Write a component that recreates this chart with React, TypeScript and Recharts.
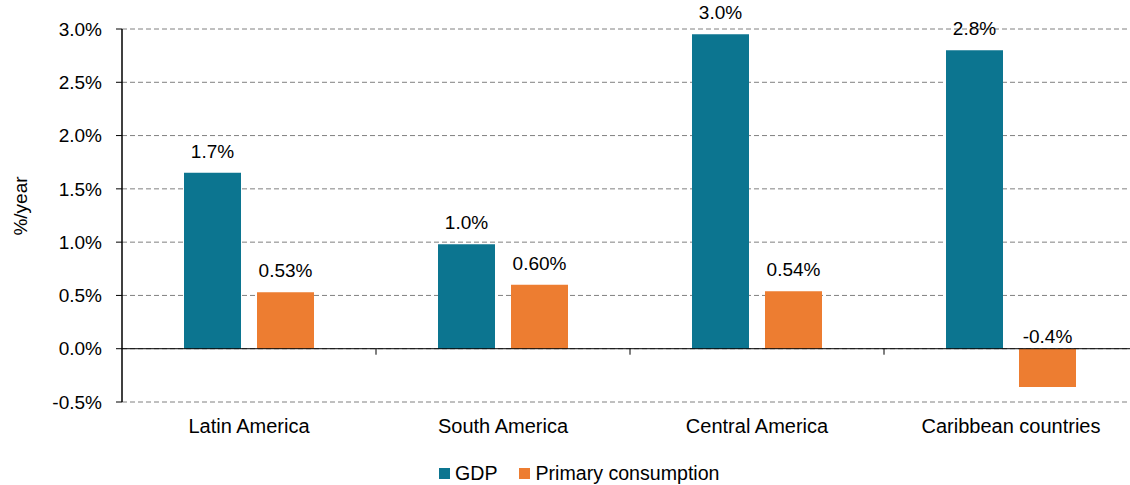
import React from 'react';
import { BarChart, Bar, XAxis, YAxis, CartesianGrid, ReferenceLine, LabelList, Legend } from 'recharts';

const categories = ['Latin America', 'South America', 'Central America', 'Caribbean countries'];
const gdpValues = [1.65, 0.98, 2.95, 2.8];
const primaryValues = [0.53, 0.6, 0.54, -0.36];
const gdpLabels = ['1.7%', '1.0%', '3.0%', '2.8%'];
const primaryLabels = ['0.53%', '0.60%', '0.54%', '-0.4%'];
const yTicks = [-0.5, 0, 0.5, 1, 1.5, 2, 2.5, 3];
const yTickLabels = ['-0.5%', '0.0%', '0.5%', '1.0%', '1.5%', '2.0%', '2.5%', '3.0%'];
const seriesNames = ['GDP', 'Primary consumption'];

const data = categories.map((c, i) => ({ category: c, gdp: gdpValues[i], primary: primaryValues[i] }));

const W = 1140;
const H = 485;
const MARGIN = { top: 29, right: 2, bottom: 0, left: 0 };
const YAXIS_W = 122;
const XAXIS_H = 59;
const LEGEND_H = 24;
const PLOT_TOP = MARGIN.top;
const PLOT_BOTTOM = H - MARGIN.bottom - LEGEND_H - XAXIS_H;
const PLOT_W = W - MARGIN.left - MARGIN.right - YAXIS_W;
const BAND = PLOT_W / categories.length;
const Y_MIN = -0.5;
const Y_MAX = 3;
const ZERO_Y = PLOT_BOTTOM - ((0 - Y_MIN) / (Y_MAX - Y_MIN)) * (PLOT_BOTTOM - PLOT_TOP);

const GDP_COLOR = '#0c7590';
const PRIMARY_COLOR = '#ed7d31';
const FONT = '"Liberation Sans", Arial, sans-serif';
const FS = 19;

const makeLabel = (labels: string[]) => (props: any) => {
  const { x, y, width, height, index, value } = props;
  const yy = Number(y);
  const hh = Number(height);
  const top = Math.min(yy, yy + hh);
  const baseline = Number(value) >= 0 ? top - 15 : top - 6;
  return (
    <text x={Number(x) + Number(width) / 2} y={baseline} textAnchor="middle" fontSize={FS} fill="#000" fontFamily={FONT}>
      {labels[index]}
    </text>
  );
};

const XTick = (props: any) => {
  const { x, y, payload, index } = props;
  return (
    <g>
      {index > 0 && (
        <line x1={x - BAND / 2} x2={x - BAND / 2} y1={ZERO_Y} y2={ZERO_Y + 6} stroke="#000" strokeWidth={1} />
      )}
      <text x={x} y={y + 31} textAnchor="middle" fontSize={20} fill="#000" fontFamily={FONT}>
        {payload.value}
      </text>
    </g>
  );
};

const LegendContent = (props: any) => {
  const items = [
    { name: seriesNames[0], color: GDP_COLOR },
    { name: seriesNames[1], color: PRIMARY_COLOR },
  ];
  return (
    <div style={{ display: 'flex', alignItems: 'center', height: LEGEND_H, marginLeft: 439, fontFamily: FONT, fontSize: 19.6, color: '#000' }}>
      {items.map((it, i) => (
        <div key={it.name} style={{ display: 'flex', alignItems: 'center', marginRight: i === 0 ? 22 : 0 }}>
          <div style={{ width: 11, height: 11, background: it.color, marginRight: 5 }} />
          <span style={{ lineHeight: '24px' }}>{it.name}</span>
        </div>
      ))}
    </div>
  );
};

const YLabel = () => (
  <text x={20} y={206} transform="rotate(-90 20 206)" textAnchor="middle" dominantBaseline="central" fontSize={FS} fill="#000" fontFamily={FONT}>
    %/year
  </text>
);

export default function App() {
  return (
    <div style={{ position: 'absolute', left: 0, top: 0, width: W, height: H, fontFamily: FONT }}>
      <BarChart width={W} height={H} data={data} margin={MARGIN} barGap={16}>
        <CartesianGrid vertical={false} stroke="#808080" strokeDasharray="5 3" />
        <XAxis
          dataKey="category"
          axisLine={false}
          tickLine={false}
          tickSize={0}
          tickMargin={0}
          height={XAXIS_H}
          interval={0}
          tick={<XTick />}
        />
        <YAxis
          width={YAXIS_W}
          domain={[Y_MIN, Y_MAX]}
          ticks={yTicks}
          allowDataOverflow
          tickFormatter={(v: number, i: number) => yTickLabels[i]}
          axisLine={{ stroke: '#000', strokeWidth: 1.5 }}
          tickLine={{ stroke: '#000', strokeWidth: 1 }}
          tickSize={6}
          tickMargin={14}
          tick={{ fill: '#000', fontSize: FS, fontFamily: FONT }}
          label={{ content: <YLabel /> }}
        />
        <ReferenceLine y={0} stroke="#000" strokeWidth={1} />
        <Legend verticalAlign="bottom" height={LEGEND_H} wrapperStyle={{ left: 0, width: W, bottom: 0 }} content={<LegendContent />} />
        <Bar dataKey="gdp" name={seriesNames[0]} fill={GDP_COLOR} barSize={57} isAnimationActive={false}>
          <LabelList dataKey="gdp" content={makeLabel(gdpLabels)} />
        </Bar>
        <Bar dataKey="primary" name={seriesNames[1]} fill={PRIMARY_COLOR} barSize={57} isAnimationActive={false}>
          <LabelList dataKey="primary" content={makeLabel(primaryLabels)} />
        </Bar>
      </BarChart>
    </div>
  );
}
